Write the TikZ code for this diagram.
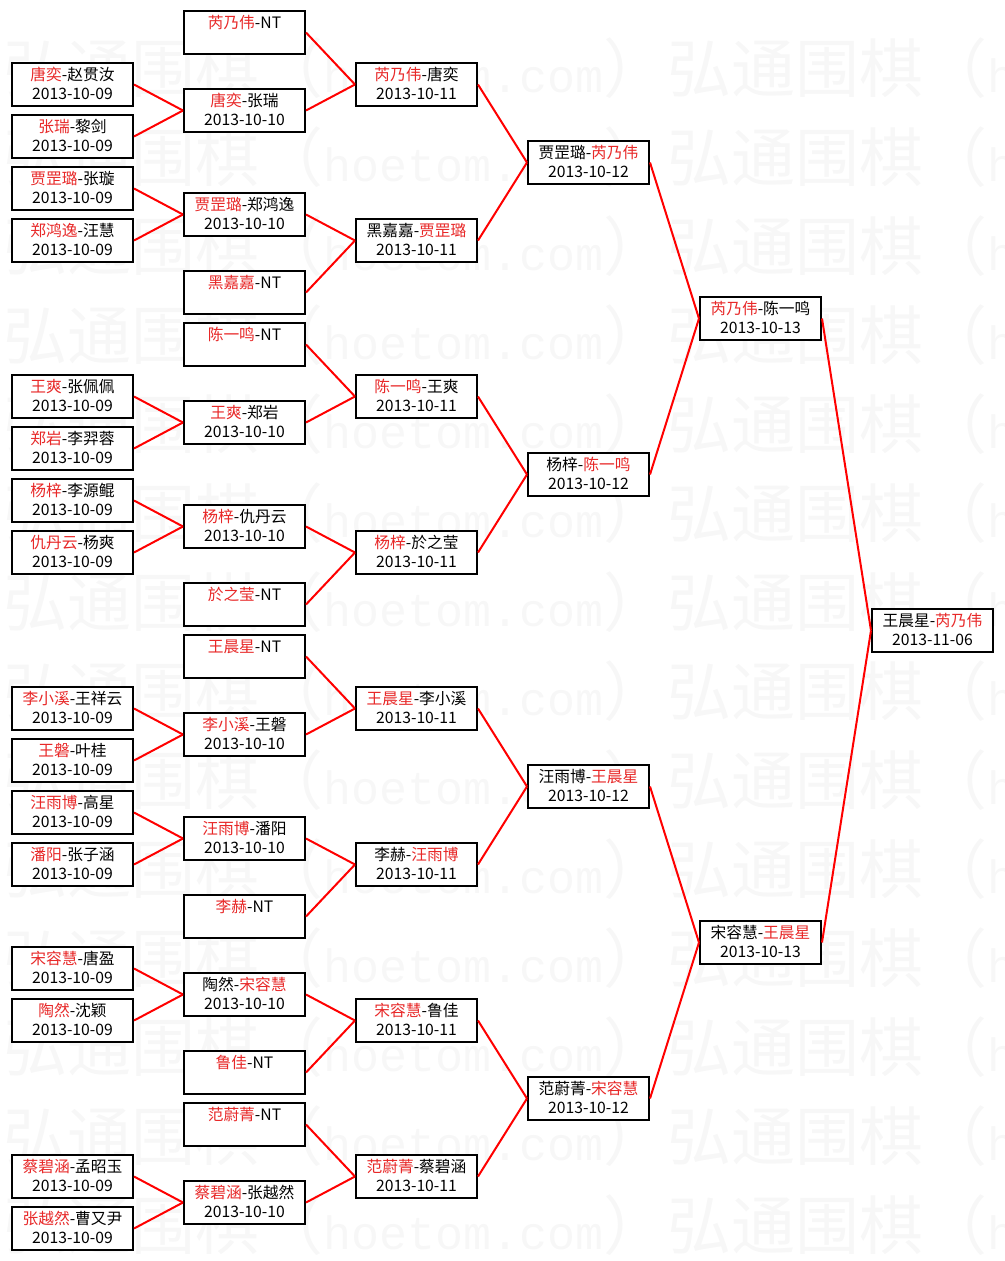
\documentclass[tikz,border=0pt]{standalone}
\usepackage{fontspec}
\newfontfamily\cjk{Noto Sans CJK SC}
\newfontfamily\wmlat{Liberation Mono}
\definecolor{winred}{RGB}{232,40,40}
\newcommand{\win}[1]{\textcolor{winred}{#1}}
\newcommand{\lh}{\rule[-2pt]{0pt}{12.5pt}}
\newcommand{\duel}[2]{\lh#1\\\lh#2}
\newcommand{\wmline}{弘通围棋（{\wmlat\fontsize{35pt}{35pt}\selectfont hoetom.com}）}
\tikzset{
  box/.style={
    rectangle, draw=black, line width=1.5pt, fill=white,
    minimum width=90.75pt, minimum height=32.25pt, inner sep=0pt,
    align=center, font=\cjk\fontsize{11.8pt}{14.25pt}\selectfont
  },
  link/.style={
    line width=1.5pt, color=red
  },
  wmark/.style={
    anchor=west, inner sep=0pt, text=black!3,
    font=\cjk\fontsize{48pt}{48pt}\selectfont
  }
}

\begin{document}
\begin{tikzpicture}[x=129pt, y=-19.5pt]
  % Page frame
  \useasboundingbox (-0.42151,-1.25) rectangle (5.41570,47.25);

  % Watermark rows
  \begin{scope}
    \clip (-0.42151,-1.25) rectangle (5.41570,47.25);
    \foreach \i in {0,...,13}
      \node[wmark] (wm\i) at (-0.404, 1.3654+3.4231*\i) {\wmline\wmline};
  \end{scope}

  % Round 1 (2013-10-09)
  \node[box] (a1) at (0,2) {\duel{\win{唐奕}-赵贯汝}{2013-10-09}};
  \node[box] (a2) at (0,4) {\duel{\win{张瑞}-黎剑}{2013-10-09}};
  \node[box] (a3) at (0,6) {\duel{\win{贾罡璐}-张璇}{2013-10-09}};
  \node[box] (a4) at (0,8) {\duel{\win{郑鸿逸}-汪慧}{2013-10-09}};
  \node[box] (a5) at (0,14) {\duel{\win{王爽}-张佩佩}{2013-10-09}};
  \node[box] (a6) at (0,16) {\duel{\win{郑岩}-李羿蓉}{2013-10-09}};
  \node[box] (a7) at (0,18) {\duel{\win{杨梓}-李源鲲}{2013-10-09}};
  \node[box] (a8) at (0,20) {\duel{\win{仇丹云}-杨爽}{2013-10-09}};
  \node[box] (a9) at (0,26) {\duel{\win{李小溪}-王祥云}{2013-10-09}};
  \node[box] (a10) at (0,28) {\duel{\win{王磐}-叶桂}{2013-10-09}};
  \node[box] (a11) at (0,30) {\duel{\win{汪雨博}-高星}{2013-10-09}};
  \node[box] (a12) at (0,32) {\duel{\win{潘阳}-张子涵}{2013-10-09}};
  \node[box] (a13) at (0,36) {\duel{\win{宋容慧}-唐盈}{2013-10-09}};
  \node[box] (a14) at (0,38) {\duel{\win{陶然}-沈颖}{2013-10-09}};
  \node[box] (a15) at (0,44) {\duel{\win{蔡碧涵}-孟昭玉}{2013-10-09}};
  \node[box] (a16) at (0,46) {\duel{\win{张越然}-曹又尹}{2013-10-09}};

  % Round 2 (2013-10-10)
  \node[box] (b1) at (1,0) {\duel{\win{芮乃伟}-NT}{}};
  \node[box] (b2) at (1,3) {\duel{\win{唐奕}-张瑞}{2013-10-10}};
  \node[box] (b3) at (1,7) {\duel{\win{贾罡璐}-郑鸿逸}{2013-10-10}};
  \node[box] (b4) at (1,10) {\duel{\win{黑嘉嘉}-NT}{}};
  \node[box] (b5) at (1,12) {\duel{\win{陈一鸣}-NT}{}};
  \node[box] (b6) at (1,15) {\duel{\win{王爽}-郑岩}{2013-10-10}};
  \node[box] (b7) at (1,19) {\duel{\win{杨梓}-仇丹云}{2013-10-10}};
  \node[box] (b8) at (1,22) {\duel{\win{於之莹}-NT}{}};
  \node[box] (b9) at (1,24) {\duel{\win{王晨星}-NT}{}};
  \node[box] (b10) at (1,27) {\duel{\win{李小溪}-王磐}{2013-10-10}};
  \node[box] (b11) at (1,31) {\duel{\win{汪雨博}-潘阳}{2013-10-10}};
  \node[box] (b12) at (1,34) {\duel{\win{李赫}-NT}{}};
  \node[box] (b13) at (1,37) {\duel{陶然-\win{宋容慧}}{2013-10-10}};
  \node[box] (b14) at (1,40) {\duel{\win{鲁佳}-NT}{}};
  \node[box] (b15) at (1,42) {\duel{\win{范蔚菁}-NT}{}};
  \node[box] (b16) at (1,45) {\duel{\win{蔡碧涵}-张越然}{2013-10-10}};

  % Round 3 (2013-10-11)
  \node[box] (c1) at (2,2) {\duel{\win{芮乃伟}-唐奕}{2013-10-11}};
  \node[box] (c2) at (2,8) {\duel{黑嘉嘉-\win{贾罡璐}}{2013-10-11}};
  \node[box] (c3) at (2,14) {\duel{\win{陈一鸣}-王爽}{2013-10-11}};
  \node[box] (c4) at (2,20) {\duel{\win{杨梓}-於之莹}{2013-10-11}};
  \node[box] (c5) at (2,26) {\duel{\win{王晨星}-李小溪}{2013-10-11}};
  \node[box] (c6) at (2,32) {\duel{李赫-\win{汪雨博}}{2013-10-11}};
  \node[box] (c7) at (2,38) {\duel{\win{宋容慧}-鲁佳}{2013-10-11}};
  \node[box] (c8) at (2,44) {\duel{\win{范蔚菁}-蔡碧涵}{2013-10-11}};

  % Round 4 (2013-10-12)
  \node[box] (d1) at (3,5) {\duel{贾罡璐-\win{芮乃伟}}{2013-10-12}};
  \node[box] (d2) at (3,17) {\duel{杨梓-\win{陈一鸣}}{2013-10-12}};
  \node[box] (d3) at (3,29) {\duel{汪雨博-\win{王晨星}}{2013-10-12}};
  \node[box] (d4) at (3,41) {\duel{范蔚菁-\win{宋容慧}}{2013-10-12}};

  % Semi-finals and final
  \node[box] (e1) at (4,11) {\duel{\win{芮乃伟}-陈一鸣}{2013-10-13}};
  \node[box] (e2) at (4,35) {\duel{宋容慧-\win{王晨星}}{2013-10-13}};
  \node[box] (f1) at (5,23) {\duel{王晨星-\win{芮乃伟}}{2013-11-06}};

  % Red bracket lines
  \foreach \s/\t in {a1/b2, a2/b2, a3/b3, a4/b3, a5/b6, a6/b6, a7/b7, a8/b7,
                     a9/b10, a10/b10, a11/b11, a12/b11, a13/b13, a14/b13, a15/b16, a16/b16,
                     b1/c1, b2/c1, b3/c2, b4/c2, b5/c3, b6/c3, b7/c4, b8/c4,
                     b9/c5, b10/c5, b11/c6, b12/c6, b13/c7, b14/c7, b15/c8, b16/c8,
                     c1/d1, c2/d1, c3/d2, c4/d2, c5/d3, c6/d3, c7/d4, c8/d4,
                     d1/e1, d2/e1, d3/e2, d4/e2, e1/f1, e2/f1}
    \draw[link] (\s.east) -- (\t.west);
\end{tikzpicture}
\end{document}
